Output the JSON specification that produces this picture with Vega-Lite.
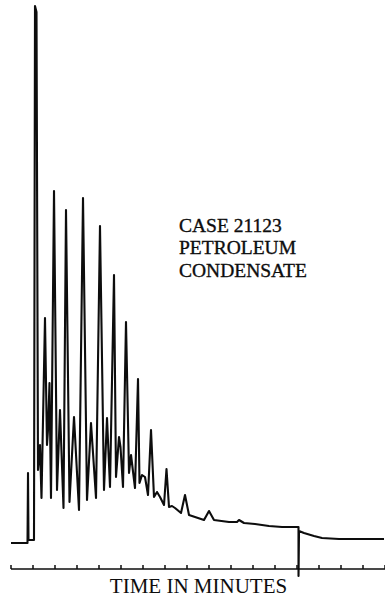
{
  "$schema": "https://vega.github.io/schema/vega-lite/v6.json",
  "width": 374,
  "height": 569,
  "padding": {"left": 9, "top": 0, "right": 2, "bottom": 0},
  "background": "white",
  "config": {"view": {"stroke": null}, "font": "Liberation Serif"},
  "datasets": {
    "trace": [
      {"t": 0, "r": 26}, {"t": 0.75, "r": 26}, {"t": 0.773, "r": 96}, {"t": 0.795, "r": 29},
      {"t": 1.045, "r": 29}, {"t": 1.091, "r": 563}, {"t": 1.159, "r": 557}, {"t": 1.227, "r": 99},
      {"t": 1.318, "r": 124}, {"t": 1.386, "r": 71}, {"t": 1.545, "r": 251}, {"t": 1.636, "r": 124},
      {"t": 1.682, "r": 139}, {"t": 1.75, "r": 186}, {"t": 1.818, "r": 71}, {"t": 1.955, "r": 378},
      {"t": 2.091, "r": 79}, {"t": 2.227, "r": 159}, {"t": 2.386, "r": 61}, {"t": 2.5, "r": 359},
      {"t": 2.659, "r": 67}, {"t": 2.864, "r": 152}, {"t": 3.091, "r": 59}, {"t": 3.273, "r": 371},
      {"t": 3.455, "r": 69}, {"t": 3.636, "r": 146}, {"t": 3.864, "r": 71}, {"t": 4.045, "r": 343},
      {"t": 4.227, "r": 79}, {"t": 4.364, "r": 151}, {"t": 4.5, "r": 82}, {"t": 4.682, "r": 294},
      {"t": 4.773, "r": 92}, {"t": 4.909, "r": 132}, {"t": 4.977, "r": 122}, {"t": 5.091, "r": 82},
      {"t": 5.227, "r": 247}, {"t": 5.364, "r": 96}, {"t": 5.455, "r": 114}, {"t": 5.636, "r": 81},
      {"t": 5.773, "r": 190}, {"t": 5.841, "r": 86}, {"t": 5.955, "r": 94}, {"t": 6.091, "r": 92},
      {"t": 6.227, "r": 74}, {"t": 6.364, "r": 139}, {"t": 6.5, "r": 72}, {"t": 6.636, "r": 77},
      {"t": 6.773, "r": 72}, {"t": 6.955, "r": 64}, {"t": 7.068, "r": 100}, {"t": 7.182, "r": 62},
      {"t": 7.318, "r": 63}, {"t": 7.455, "r": 61}, {"t": 7.727, "r": 56}, {"t": 7.909, "r": 74},
      {"t": 8.091, "r": 54}, {"t": 8.364, "r": 52}, {"t": 8.773, "r": 49}, {"t": 9.0, "r": 58},
      {"t": 9.227, "r": 49}, {"t": 9.909, "r": 47}, {"t": 10.273, "r": 47}, {"t": 10.364, "r": 49},
      {"t": 10.591, "r": 46}, {"t": 11.091, "r": 45}, {"t": 11.727, "r": 43}, {"t": 12.318, "r": 42},
      {"t": 13.068, "r": 42}, {"t": 13.069, "r": -7}, {"t": 13.091, "r": 38}, {"t": 13.318, "r": 36},
      {"t": 13.773, "r": 33}, {"t": 14.136, "r": 31}, {"t": 14.909, "r": 30}, {"t": 15.636, "r": 30},
      {"t": 16.091, "r": 30}, {"t": 16.955, "r": 30}
    ],
    "ticks": [
      {"t": 0}, {"t": 1}, {"t": 2}, {"t": 3}, {"t": 4}, {"t": 5}, {"t": 6}, {"t": 7}, {"t": 8},
      {"t": 9}, {"t": 10}, {"t": 11}, {"t": 12}, {"t": 13}, {"t": 14}, {"t": 15}, {"t": 16}, {"t": 17}
    ],
    "label": [{"text": "CASE 21123\nPETROLEUM\nCONDENSATE", "t": 7.636, "r": 352.4}]
  },
  "layer": [
    {
      "data": {"name": "trace"},
      "mark": {"type": "line", "color": "#0d0d0d", "strokeWidth": 2.1, "strokeJoin": "round", "clip": false},
      "encoding": {
        "x": {
          "field": "t", "type": "quantitative", "sort": null,
          "scale": {"domain": [0, 17], "nice": false, "zero": false},
          "axis": {
            "domain": false, "ticks": false, "labels": false, "grid": false,
            "title": "TIME IN MINUTES", "titleFont": "Liberation Serif",
            "titleFontSize": 21, "titleFontWeight": "normal", "titleColor": "#0d0d0d",
            "titlePadding": 6
          }
        },
        "y": {
          "field": "r", "type": "quantitative",
          "scale": {"domain": [0, 569], "nice": false, "zero": false},
          "axis": null
        },
        "order": {"field": "t", "type": "quantitative"}
      }
    },
    {
      "data": {"name": "ticks"},
      "mark": {"type": "rule", "color": "#0d0d0d", "strokeWidth": 1.5},
      "encoding": {
        "x": {"field": "t", "type": "quantitative"},
        "y": {"datum": 0},
        "y2": {"datum": 4}
      }
    },
    {
      "data": {"name": "ticks"},
      "mark": {"type": "rule", "color": "#0d0d0d", "strokeWidth": 1.5},
      "encoding": {
        "x": {"aggregate": "min", "field": "t", "type": "quantitative"},
        "x2": {"aggregate": "max", "field": "t"},
        "y": {"datum": 0}
      }
    },
    {
      "data": {"name": "label"},
      "mark": {"type": "text", "align": "left", "baseline": "top", "lineBreak": "\n", "lineHeight": 22.5,
               "font": "Liberation Serif", "fontSize": 19.5, "color": "#0d0d0d",
               "stroke": "#0d0d0d", "strokeWidth": 0.35},
      "encoding": {
        "x": {"field": "t", "type": "quantitative"},
        "y": {"field": "r", "type": "quantitative"},
        "text": {"field": "text"}
      }
    }
  ]
}
